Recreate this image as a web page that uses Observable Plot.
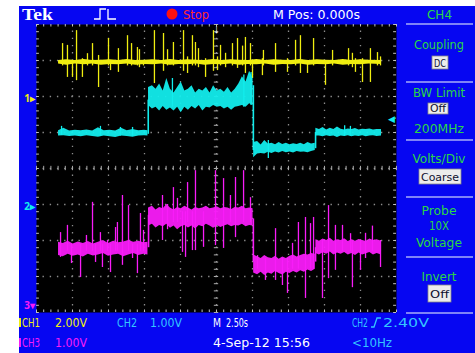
<!DOCTYPE html>
<html><head><meta charset="utf-8">
<script src="https://cdn.jsdelivr.net/npm/d3@7"></script>
<script src="https://cdn.jsdelivr.net/npm/@observablehq/plot@0.6"></script>
<style>body{margin:0;background:#fff}</style>
</head><body><div id="chart"></div>
<script>
// Time axis in seconds (M 2.50 s/div, 10 div), vertical in screen divisions (8 div)
const majorT = [-10, -7.5, -5, -2.5, 0, 2.5, 5, 7.5, 10];
const majorV = [-3, -2, -1, 0, 1, 2, 3];

// CH1 (yellow) noise band [t, lo, hi]
const yellowBand = [
[-10.97,2.9,3.0],[-10.4,2.87,3.02],[-9.8,2.9,3.0],[-9.2,2.88,3.03],[-8.6,2.9,3.0],[-8.0,2.87,3.01],[-7.4,2.89,3.02],[-6.8,2.88,3.0],[-6.2,2.9,3.03],[-5.6,2.87,3.0],[-5.0,2.89,3.01],[-4.4,2.88,3.02],[-3.8,2.9,3.0],[-3.2,2.87,3.03],[-2.6,2.89,3.0],[-2.0,2.88,3.02],[-1.4,2.9,3.01],[-0.8,2.87,3.0],[-0.2,2.89,3.03],[0.4,2.88,3.0],[1.0,2.9,3.02],[1.6,2.87,3.01],[2.2,2.89,3.0],[2.8,2.88,3.03],[3.4,2.9,3.0],[4.0,2.87,3.02],[4.6,2.89,3.01],[5.2,2.88,3.0],[5.8,2.9,3.03],[6.4,2.87,3.0],[7.0,2.89,3.02],[7.6,2.88,3.01],[8.2,2.9,3.0],[8.8,2.87,3.03],[9.4,2.89,3.0],[10.0,2.88,3.02],[10.6,2.9,3.01],[11.46,2.89,3.0]
];
// CH1 spikes [t, lo, hi]
const yellowSpikes = [
[-10.69,2.85,3.47],[-10.35,2.53,3.42],[-10.0,2.53,3.0],[-9.72,2.44,3.83],[-9.31,2.53,3.05],[-8.96,2.85,3.19],[-8.61,2.85,3.47],[-8.19,2.25,3.14],[-7.5,2.85,3.61],[-7.36,2.72,3.0],[-6.81,2.67,3.33],[-6.18,2.85,3.69],[-5.9,2.85,3.47],[-5.49,2.85,3.36],[-5.35,2.8,3.3],[-5.07,2.85,3.0],[-4.31,2.36,3.83],[-3.68,2.7,3.75],[-3.4,2.85,3.3],[-2.99,2.85,3.5],[-2.29,2.7,3.83],[-2.01,2.64,3.1],[-1.67,2.85,3.69],[-1.46,2.85,3.5],[-1.25,2.8,3.33],[-0.76,2.53,3.05],[-0.21,2.7,3.83],[0.07,2.72,3.1],[0.28,2.85,3.42],[0.63,2.8,3.2],[1.11,2.85,3.47],[1.46,2.78,3.61],[1.81,2.85,3.4],[2.01,2.64,3.64],[2.36,2.85,3.47],[2.5,2.5,3.0],[3.19,2.58,3.05],[3.26,2.85,3.28],[4.1,2.67,3.47],[4.93,2.67,3.05],[5.49,2.85,3.56],[5.83,2.64,3.69],[6.32,2.64,3.0],[6.74,2.85,3.61],[7.57,2.31,3.0],[8.06,2.85,3.28],[9.17,2.85,3.33],[9.44,2.8,3.2],[9.65,2.67,3.05],[10.14,2.39,3.05],[10.69,2.39,3.33],[11.18,2.85,3.22],[11.39,2.85,3.1]
];

// CH2 (cyan) noise band [t, lo, hi, segment]
const cyanBand = [
[-10.97,0.9,1.05,0],[-10.6,0.91,1.12,0],[-10.2,0.89,1.04,0],[-9.8,0.9,1.06,0],[-9.4,0.88,1.05,0],[-9.0,0.91,1.07,0],[-8.6,0.89,1.04,0],[-8.2,0.87,1.13,0],[-7.8,0.9,1.05,0],[-7.4,0.88,1.06,0],[-7.0,0.86,1.04,0],[-6.6,0.9,1.12,0],[-6.2,0.89,1.05,0],[-5.8,0.87,1.08,0],[-5.4,0.9,1.05,0],[-5.0,0.91,1.06,0],[-4.76,0.9,1.05,0],
[-4.72,1.75,2.25,1],[-4.45,1.65,2.3,1],[-4.2,1.7,2.2,1],[-3.95,1.6,2.35,1],[-3.7,1.72,2.15,1],[-3.45,1.62,2.5,1],[-3.2,1.68,2.2,1],[-2.95,1.6,2.1,1],[-2.7,1.7,2.25,1],[-2.45,1.55,2.4,1],[-2.2,1.7,2.15,1],[-1.95,1.62,2.2,1],[-1.7,1.72,2.3,1],[-1.45,1.65,2.1,1],[-1.2,1.75,2.2,1],[-0.95,1.6,2.15,1],[-0.7,1.7,2.25,1],[-0.45,1.68,2.1,1],[-0.2,1.75,2.3,1],[0.05,1.7,2.15,1],[0.3,1.72,2.2,1],[0.55,1.65,2.12,1],[0.8,1.7,2.25,1],[1.05,1.62,2.1,1],[1.3,1.7,2.2,1],[1.55,1.72,2.35,1],[1.8,1.75,2.55,1],[2.05,1.7,2.4,1],[2.3,1.8,2.7,1],[2.54,1.75,2.5,1],
[2.58,0.3,0.72,2],[2.85,0.4,0.75,2],[3.1,0.42,0.65,2],[3.35,0.4,0.78,2],[3.6,0.45,0.68,2],[3.85,0.42,0.7,2],[4.1,0.46,0.66,2],[4.35,0.43,0.72,2],[4.6,0.47,0.67,2],[4.85,0.44,0.7,2],[5.1,0.46,0.66,2],[5.35,0.43,0.69,2],[5.6,0.47,0.67,2],[5.85,0.45,0.7,2],[6.1,0.46,0.66,2],[6.35,0.44,0.72,2],[6.6,0.47,0.68,2],[6.86,0.5,0.7,2],
[6.9,0.9,1.12,3],[7.15,0.9,1.08,3],[7.4,0.88,1.14,3],[7.65,0.91,1.07,3],[7.9,0.89,1.12,3],[8.15,0.9,1.08,3],[8.4,0.86,1.15,3],[8.65,0.9,1.09,3],[8.9,0.89,1.07,3],[9.15,0.91,1.1,3],[9.4,0.88,1.08,3],[9.65,0.9,1.11,3],[9.9,0.89,1.07,3],[10.15,0.91,1.09,3],[10.4,0.88,1.08,3],[10.65,0.9,1.1,3],[10.9,0.91,1.07,3],[11.15,0.89,1.08,3],[11.46,0.9,1.08,3]
];
const cyanSteps = [[-4.74,0.95,1.9],[2.56,0.5,2.3],[6.88,0.55,1.0]];
const cyanSpikes = [[-10.76,0.92,1.17],[-8.06,0.9,1.17],[-6.67,0.9,1.14],[-5.83,0.9,1.14],[-3.06,1.7,2.5],[1.9,1.7,2.6],[2.4,1.75,2.67],[3.6,0.28,0.78],[8.9,0.9,1.19],[9.3,0.9,1.17]];

// CH3 (magenta) noise band [t, lo, hi, segment]
const magentaBand = [
[-10.97,-2.42,-2.05,0],[-10.65,-2.45,-2.08,0],[-10.3,-2.38,-2.02,0],[-9.95,-2.44,-2.1,0],[-9.6,-2.4,-2.04,0],[-9.25,-2.46,-2.08,0],[-8.9,-2.38,-2.03,0],[-8.55,-2.43,-2.1,0],[-8.2,-2.4,-2.05,0],[-7.85,-2.36,-2.0,0],[-7.5,-2.44,-2.08,0],[-7.15,-2.4,-2.02,0],[-6.8,-2.38,-2.06,0],[-6.45,-2.45,-2.04,0],[-6.1,-2.4,-2.0,0],[-5.75,-2.36,-2.05,0],[-5.4,-2.42,-2.02,0],[-5.05,-2.38,-2.06,0],[-4.76,-2.4,-2.05,0],
[-4.72,-1.6,-1.1,1],[-4.45,-1.55,-1.05,1],[-4.2,-1.65,-1.15,1],[-3.95,-1.58,-1.08,1],[-3.7,-1.62,-1.12,1],[-3.45,-1.55,-1.0,1],[-3.2,-1.66,-1.1,1],[-2.95,-1.6,-1.15,1],[-2.7,-1.7,-1.08,1],[-2.45,-1.62,-1.12,1],[-2.2,-1.58,-1.05,1],[-1.95,-1.65,-1.1,1],[-1.7,-1.6,-1.15,1],[-1.45,-1.68,-1.08,1],[-1.2,-1.58,-1.12,1],[-0.95,-1.62,-1.1,1],[-0.7,-1.55,-1.05,1],[-0.45,-1.6,-1.12,1],[-0.2,-1.66,-1.1,1],[0.05,-1.58,-1.06,1],[0.3,-1.64,-1.12,1],[0.55,-1.6,-1.08,1],[0.8,-1.56,-1.1,1],[1.05,-1.62,-1.14,1],[1.3,-1.58,-1.08,1],[1.55,-1.6,-1.1,1],[1.8,-1.55,-1.05,1],[2.05,-1.62,-1.12,1],[2.3,-1.58,-1.1,1],[2.54,-1.6,-1.12,1],
[2.58,-2.9,-2.4,2],[2.85,-2.95,-2.45,2],[3.1,-2.88,-2.5,2],[3.35,-2.97,-2.42,2],[3.6,-2.9,-2.48,2],[3.85,-2.94,-2.5,2],[4.1,-2.86,-2.44,2],[4.35,-2.92,-2.52,2],[4.6,-2.96,-2.46,2],[4.85,-2.88,-2.5,2],[5.1,-2.92,-2.44,2],[5.35,-2.86,-2.4,2],[5.6,-2.9,-2.46,2],[5.85,-2.84,-2.42,2],[6.1,-2.88,-2.38,2],[6.35,-2.82,-2.4,2],[6.6,-2.86,-2.36,2],[6.86,-2.8,-2.38,2],
[6.9,-2.36,-1.98,3],[7.15,-2.4,-2.02,3],[7.4,-2.34,-1.96,3],[7.65,-2.38,-2.0,3],[7.9,-2.32,-1.94,3],[8.15,-2.4,-2.02,3],[8.4,-2.35,-1.98,3],[8.65,-2.38,-2.0,3],[8.9,-2.33,-1.95,3],[9.15,-2.4,-2.03,3],[9.4,-2.36,-1.98,3],[9.65,-2.42,-2.02,3],[9.9,-2.35,-1.97,3],[10.15,-2.4,-2.0,3],[10.4,-2.37,-2.03,3],[10.65,-2.33,-1.96,3],[10.9,-2.4,-2.0,3],[11.15,-2.36,-1.98,3],[11.46,-2.4,-2.02,3]
];
const magentaSteps = [[-4.72,-2.2,-1.3],[2.56,-2.6,-1.4],[6.88,-2.6,-2.2]];
const magentaSpikes = [
[-10.83,-2.47,-1.78],[-10.35,-2.3,-1.58],[-10.07,-2.64,-2.1],[-9.44,-3.03,-2.1],[-9.03,-2.3,-1.86],[-8.61,-2.3,-0.94],[-8.4,-2.61,-2.1],[-8.06,-2.3,-1.78],[-7.92,-2.75,-2.1],[-7.57,-2.3,-2.0],[-7.36,-2.89,-2.1],[-7.01,-2.3,-1.64],[-6.88,-2.3,-1.5],[-6.53,-2.69,-0.75],[-6.11,-2.3,-1.03],[-5.83,-2.5,-2.1],[-5.49,-2.92,-2.1],[-5.28,-2.3,-1.25],[-5.07,-2.3,-1.72],
[-3.75,-2.0,-0.75],[-3.4,-1.7,-1.0],[-2.99,-1.5,-0.53],[-2.71,-1.5,-0.83],[-2.36,-2.33,-1.2],[-2.15,-2.47,-1.2],[-2.01,-1.5,-0.39],[-1.67,-2.28,-1.2],[-1.46,-2.28,-0.06],[-0.9,-2.19,-1.2],[-0.07,-2.14,-0.06],[0.49,-2.22,-0.28],[0.97,-1.5,-0.75],[1.32,-1.92,-0.25],[1.88,-1.5,-0.06],[2.36,-1.5,-0.81],
[2.85,-2.8,-2.42],[3.4,-3.11,-2.5],[4.1,-3.11,-1.67],[4.58,-3.25,-2.5],[4.93,-3.47,-2.5],[5.28,-2.8,-2.08],[5.69,-2.8,-1.5],[6.18,-3.61,-1.36],[6.53,-2.8,-1.53],[6.74,-2.8,-1.36],
[7.36,-3.61,-2.0],[7.78,-3.06,-1.03],[8.26,-2.83,-1.58],[8.75,-2.3,-1.58],[9.31,-2.3,-1.81],[9.44,-3.31,-2.0],[10.0,-2.83,-2.0],[10.35,-2.5,-1.8],[10.83,-2.3,-1.6],[11.39,-2.75,-2.0]
];

// channel ground markers (screen div), trigger level (div)
const chMarkers = [{label: "1", v: 1.94}, {label: "2", v: -1.06}, {label: "3", v: -3.8}];
const triggerLevel = 1.36;

// text labels
const headerTexts = {brand: "Tek", state: "Stop", mpos: "M Pos: 0.000s", ch: "CH4"};
const menuItems = ["Coupling", "BW Limit", "200MHz", "Volts/Div", "Probe", "10X", "Voltage", "Invert"];
const menuValues = ["DC", "Off", "Coarse", "Off"];
const statusTexts = ["CH1", "2.00V", "CH2", "1.00V", "M", "2.50s", "CH2", "2.40V", "CH3", "1.00V", "4-Sep-12 15:56", "<10Hz"];

const YEL = "#f0ee10", CYA = "#12ecec", MAG = "#f81cf8", BLUE = "#0606f2", GRN = "#2ad646", CH2TXT = "#34c4ff";

const minorT = d3.range(-12.5, 12.501, 0.5);
const minorV = d3.range(-4, 4.001, 0.2);

const acc = {x: d => d[0], y1: d => d[1], y2: d => d[2]};

function channel(band, steps, spikes, color) {
  const m = [];
  if (band[0].length > 3) m.push(Plot.areaY(band, {...acc, z: d => d[3], fill: color, fillOpacity: 0.95}));
  else m.push(Plot.areaY(band, {...acc, fill: color}));
  if (steps) m.push(Plot.ruleX(steps, {...acc, stroke: color, strokeWidth: 1.6}));
  m.push(Plot.ruleX(spikes, {...acc, stroke: color, strokeWidth: 1.3}));
  return m;
}

const plot = Plot.plot({
  width: 475, height: 353,
  marginLeft: 36, marginRight: 79, marginTop: 24, marginBottom: 41,
  x: {domain: [-12.5, 12.5], axis: null},
  y: {domain: [-4, 4], axis: null},
  style: {background: "white", overflow: "visible"},
  marks: [
    Plot.frame({fill: "black"}),
    Plot.ruleX(majorT, {x: d => d, stroke: "#8c8c8c", strokeWidth: 1.3, strokeDasharray: "1.4,5.8", strokeDashoffset: 0.7}),
    Plot.ruleY(majorV, {y: d => d, stroke: "#8c8c8c", strokeWidth: 1.3, strokeDasharray: "1.4,5.8", strokeDashoffset: 0.7}),
    Plot.ruleX(minorT, {x: d => d, y1: -0.06, y2: 0.06, stroke: "#a8a8a8"}),
    Plot.ruleY(minorV, {y: d => d, x1: -0.15, x2: 0.15, stroke: "#a8a8a8"}),
    Plot.ruleX(minorT, {x: d => d, y1: 4, y2: 3.93, stroke: "#c0c0c0"}),
    Plot.ruleX(minorT, {x: d => d, y1: -4, y2: -3.93, stroke: "#c0c0c0"}),
    Plot.ruleY(minorV, {y: d => d, x1: -12.5, x2: -12.3, stroke: "#c0c0c0"}),
    Plot.ruleY(minorV, {y: d => d, x1: 12.5, x2: 12.3, stroke: "#c0c0c0"}),
    ...channel(yellowBand, null, yellowSpikes, YEL),
    ...channel(cyanBand, cyanSteps, cyanSpikes, CYA),
    ...channel(magentaBand, magentaSteps, magentaSpikes, MAG),
    Plot.text([chMarkers[0]], {x: () => -12.5, y: d => d.v, text: d => d.label + "\u25B8", fill: YEL, dx: -7, fontSize: 10, fontWeight: "bold"}),
    Plot.text([chMarkers[1]], {x: () => -12.5, y: d => d.v, text: d => d.label + "\u25B8", fill: CYA, dx: -7, fontSize: 10, fontWeight: "bold"}),
    Plot.text([chMarkers[2]], {x: () => -12.5, y: d => d.v, text: d => d.label + "\u25BE", fill: MAG, dx: -7, fontSize: 10, fontWeight: "bold"}),
    Plot.text([triggerLevel], {x: () => 12.5, y: d => d, text: () => "\u25C0", fill: CYA, dx: -5, fontSize: 9}),
    Plot.text([0], {x: d => d, y: () => 4, text: () => "\u2193", fill: "white", lineAnchor: "top", fontSize: 13, fontWeight: "bold", dy: -1})
  ]
});

const svg = d3.select(plot);
svg.insert("rect", ":first-child").attr("x", 19).attr("y", 6).attr("width", 456).attr("height", 347).attr("fill", BLUE);
const g = svg.append("g");
const FONT = "'Liberation Sans Narrow','DejaVu Sans Condensed',sans-serif";
function txt(x, y, s, o = {}) {
  const t = g.append("text").attr("x", x).attr("y", y).text(s)
    .attr("fill", o.fill || "white").attr("font-size", o.size || 12)
    .attr("font-family", o.family || FONT).attr("text-anchor", o.anchor || "start");
  if (o.weight) t.attr("font-weight", o.weight);
  if (o.len) t.attr("textLength", o.len).attr("lengthAdjust", "spacingAndGlyphs");
  return t;
}
// header
txt(22, 20, headerTexts.brand, {family: "'Liberation Serif',serif", weight: "bold", size: 17, len: 31});
g.append("path").attr("d", "M94,19H100V9H106M108,9V19H116").attr("stroke", "white").attr("stroke-width", 1.3).attr("fill", "none");
g.append("circle").attr("cx", 172).attr("cy", 14).attr("r", 5.5).attr("fill", "#ff1010");
txt(183, 19, headerTexts.state, {fill: "#ff2a2a", size: 12, len: 26});
txt(273, 19, headerTexts.mpos, {size: 12, len: 87});
txt(427, 19, headerTexts.ch, {fill: GRN, size: 12, len: 25});
// right menu
const SEP = "#a8aef8";
[24, 82, 140, 197, 257, 313].forEach(y => g.append("line").attr("x1", 406).attr("x2", 473).attr("y1", y).attr("y2", y).attr("stroke", SEP).attr("stroke-width", 1.3));
const mi = [[49, 50], [97, 52], [133, 50], [163, 53], [215, 35], [230, 20], [247, 46], [281, 35]];
menuItems.forEach((s, i) => txt(439, mi[i][0], s, {fill: GRN, anchor: "middle", size: 12, len: mi[i][1]}));
const boxes = [[432, 56, 16, 13, 66.5], [428, 103, 20, 11, 112], [419, 169, 42, 15, 180.5], [428, 285, 23, 17, 298]];
boxes.forEach((b, i) => {
  g.append("rect").attr("x", b[0]).attr("y", b[1]).attr("width", b[2]).attr("height", b[3]).attr("fill", "#ececec").attr("stroke", "#888").attr("stroke-width", 0.8);
  txt(b[0] + b[2] / 2, b[4], menuValues[i], {fill: "#101030", anchor: "middle", size: 11, len: b[2] - 4});
});
// bottom status
const st = [[22, 327, 18, YEL], [55, 327, 32, YEL], [117, 327, 20, CH2TXT], [150, 327, 32, CH2TXT], [213, 327, 8, "white"], [226, 327, 22, "white"],
            [352, 327, 16, CH2TXT], [383, 327, 46, CH2TXT], [22, 347, 18, MAG], [55, 347, 32, MAG], [213, 347, 97, "white"], [352, 347, 40, CH2TXT]];
statusTexts.forEach((s, i) => txt(st[i][0], st[i][1], s, {fill: st[i][3], size: 12, len: st[i][2]}));
g.append("path").attr("d", "M371,327H374L377,318H381").attr("stroke", CH2TXT).attr("stroke-width", 1.3).attr("fill", "none");
g.append("rect").attr("x", 19).attr("y", 318).attr("width", 2).attr("height", 9).attr("fill", YEL);
g.append("rect").attr("x", 19).attr("y", 338).attr("width", 2).attr("height", 9).attr("fill", MAG);

document.getElementById("chart").appendChild(plot);
</script>
</body></html>
